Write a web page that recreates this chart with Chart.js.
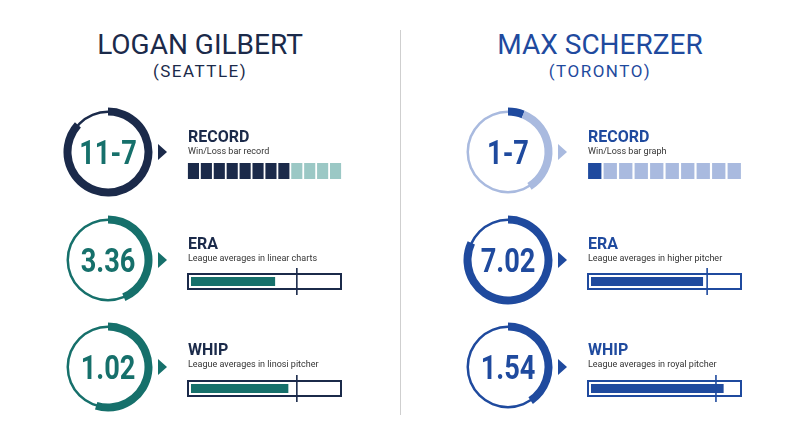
<!DOCTYPE html>
<html><head><meta charset="utf-8">
<script src="https://cdn.jsdelivr.net/npm/chart.js@4.4.1/dist/chart.umd.min.js"></script>
<style>
html,body{margin:0;padding:0;background:#fff;}
body{width:800px;height:447px;position:relative;overflow:hidden;font-family:Roboto,"Noto Sans",sans-serif;}
.abs{position:absolute;}
.title{font-size:28px;font-weight:400;text-align:center;width:360px;letter-spacing:0px;}
.team{font-size:17px;font-weight:400;text-align:center;width:360px;letter-spacing:1.5px;}
.num{font-weight:700;font-size:34px;text-align:center;width:100px;line-height:40px;transform:scaleX(0.8);}
.lab{font-weight:700;font-size:16px;line-height:18px;}
.sub{font-size:9px;color:#333;line-height:12px;}
.tri{width:0;height:0;border-top:8px solid transparent;border-bottom:8px solid transparent;border-left:9px solid #000;}
#div{left:400px;top:30px;width:1px;height:385px;background:#cfcfcf;}
</style></head>
<body>
<div id="div" class="abs"></div>
<script>
// ---- data ----
const players = ['LOGAN GILBERT', 'MAX SCHERZER'];
const teams = ['(SEATTLE)', '(TORONTO)'];
const statLabels = ['RECORD', 'ERA', 'WHIP'];
const gilbertSubtitles = ['Win/Loss bar record', 'League averages in linear charts', 'League averages in linosi pitcher'];
const scherzerSubtitles = ['Win/Loss bar graph', 'League averages in higher pitcher', 'League averages in royal pitcher'];
const gilbertValues = ['11-7', '3.36', '1.02'];
const scherzerValues = ['1-7', '7.02', '1.54'];
// ring arcs in degrees (thick primary arc, thick secondary arc)
const gilbertRingArc = [312, 157, 197];
const gilbertRingArc2 = [0, 0, 0];
const scherzerRingArc = [22, 295, 146];
const scherzerRingArc2 = [126, 0, 0];
// record boxes (dark, light)
const gilbertBoxes = [8, 4];
const scherzerBoxes = [1, 9];
// bar fills and league average marks (percent of bar)
const eraBar = [57, 76];
const eraLeague = [72, 79];
const whipBar = [66, 90];
const whipLeague = [72, 85];

// ---- styles ----
const sides = [
  {x0: 0, title: '#1b2a4a', label: '#1b2a4a', num: '#16706b',
   ringMain: ['#1b2a4a', '#16706b', '#16706b'], ringSec: ['#1b2a4a', '#16706b', '#16706b'], ringThin: ['#1b2a4a', '#16706b', '#16706b'],
   tri: ['#1b2a4a', '#16706b', '#16706b'], boxDark: '#1b2a4a', boxLight: '#9bc8c5', fill: '#16706b', outline: '#1b2a4a'},
  {x0: 400, title: '#1f4a9e', label: '#1f4a9e', num: '#1f4a9e',
   ringMain: ['#1f4a9e', '#1f4a9e', '#1f4a9e'], ringSec: ['#a9badf', '#1f4a9e', '#1f4a9e'], ringThin: ['#a9badf', '#1f4a9e', '#1f4a9e'],
   tri: ['#a9badf', '#1f4a9e', '#1f4a9e'], boxDark: '#1f4a9e', boxLight: '#a9badf', fill: '#1f4a9e', outline: '#1f4a9e'}
];
const rowY = [152, 260, 367];
const ringCX = 108;
const textX = 188;

Chart.defaults.animation = false;
Chart.defaults.events = [];
Chart.defaults.plugins.legend.display = false;
Chart.defaults.plugins.tooltip.enabled = false;

function mk(tag, cls, css, txt) {
  const e = document.createElement(tag);
  if (cls) e.className = cls;
  Object.assign(e.style, css || {});
  if (txt !== undefined) e.textContent = txt;
  document.body.appendChild(e);
  return e;
}
function canvasAt(x, y, w, h) {
  const c = document.createElement('canvas');
  c.width = w; c.height = h;
  Object.assign(c.style, {position: 'absolute', left: x + 'px', top: y + 'px', width: w + 'px', height: h + 'px'});
  document.body.appendChild(c);
  return c;
}
function ring(cx, cy, arc1, arc2, c1, c2, cThin) {
  const S = 100;
  // thin full circle (outer 41.5, inner 39)
  new Chart(canvasAt(cx - S / 2, cy - S / 2, S, S), {
    type: 'doughnut',
    data: {labels: ['a'], datasets: [{data: [360], backgroundColor: [cThin], borderWidth: 0}]},
    options: {responsive: false, radius: 41.5, cutout: (39 / 41.5 * 100) + '%'}
  });
  // thick arcs (outer 44.5, inner 36.5)
  new Chart(canvasAt(cx - S / 2, cy - S / 2, S, S), {
    type: 'doughnut',
    data: {labels: ['a', 'b', 'rest'], datasets: [{data: [arc1, arc2, 360 - arc1 - arc2], backgroundColor: [c1, c2, 'rgba(0,0,0,0)'], borderWidth: 0}]},
    options: {responsive: false, radius: 44.5, cutout: (36.5 / 44.5 * 100) + '%'}
  });
}
function record(x, y, w, h, boxes, dark, light) {
  const n = boxes[0] + boxes[1];
  const labels = [], data = [], cols = [];
  for (let i = 0; i < n; i++) { labels.push(String(i + 1)); data.push(1); cols.push(i < boxes[0] ? dark : light); }
  new Chart(canvasAt(x, y, w, h), {
    type: 'bar',
    data: {labels, datasets: [{data, backgroundColor: cols, borderWidth: 0, barPercentage: 0.86, categoryPercentage: 1}]},
    options: {responsive: false, layout: {padding: 0},
      scales: {x: {display: false}, y: {display: false, min: 0, max: 1}}}
  });
}
const boxPlugin = {
  id: 'boxMark',
  beforeDatasetsDraw(chart, args, opts) {
    const ca = chart.chartArea, ctx = chart.ctx;
    ctx.save();
    ctx.strokeStyle = opts.outline; ctx.lineWidth = 2;
    ctx.strokeRect(ca.left - 3, ca.top - 3, ca.right - ca.left + 6, ca.bottom - ca.top + 6);
    ctx.restore();
  },
  afterDatasetsDraw(chart, args, opts) {
    const ca = chart.chartArea, ctx = chart.ctx;
    const x = chart.scales.x.getPixelForValue(opts.mark);
    ctx.save();
    ctx.strokeStyle = opts.outline; ctx.lineWidth = 1.6;
    ctx.beginPath(); ctx.moveTo(x, ca.top - 9); ctx.lineTo(x, ca.bottom + 9); ctx.stroke();
    ctx.restore();
  }
};
function meter(x, y, value, mark, fill, outline) {
  new Chart(canvasAt(x, y, 163, 36), {
    type: 'bar',
    plugins: [boxPlugin],
    data: {labels: ['v'], datasets: [{data: [value], backgroundColor: fill, borderWidth: 0, barPercentage: 1, categoryPercentage: 1}]},
    options: {responsive: false, indexAxis: 'y', layout: {padding: {left: 8, right: 8, top: 13, bottom: 14}},
      scales: {x: {display: false, min: 0, max: 100}, y: {display: false}},
      plugins: {boxMark: {mark, outline}}}
  });
}

[0, 1].forEach(p => {
  const s = sides[p], X = s.x0;
  const subs = p === 0 ? gilbertSubtitles : scherzerSubtitles;
  const vals = p === 0 ? gilbertValues : scherzerValues;
  const arcs = p === 0 ? gilbertRingArc : scherzerRingArc;
  const arcs2 = p === 0 ? gilbertRingArc2 : scherzerRingArc2;
  const boxes = p === 0 ? gilbertBoxes : scherzerBoxes;
  mk('div', 'abs title', {left: (X + 20) + 'px', top: '28px', color: s.title}, players[p]);
  mk('div', 'abs team', {left: (X + 20) + 'px', top: '61px', color: s.title}, teams[p]);
  for (let r = 0; r < 3; r++) {
    const cy = rowY[r];
    const cx = X + ringCX;
    ring(cx, cy, arcs[r], arcs2[r], s.ringMain[r], s.ringSec[r], s.ringThin[r]);
    mk('div', 'abs num', {left: (cx - 50) + 'px', top: (cy - 20) + 'px', color: s.num}, vals[r]);
    mk('div', 'abs tri', {left: (cx + 50) + 'px', top: (cy - 8) + 'px', borderLeftColor: s.tri[r]});
    mk('div', 'abs lab', {left: (X + textX) + 'px', top: (cy - 24 - r) + 'px', color: s.label}, statLabels[r]);
    mk('div', 'abs sub', {left: (X + textX) + 'px', top: (cy - 7 - r) + 'px'}, subs[r]);
  }
  record(X + 187, rowY[0] + 11, 155, 16, boxes, s.boxDark, s.boxLight);
  meter(X + 183, rowY[1] + 4, eraBar[p], eraLeague[p], s.fill, s.outline);
  meter(X + 183, rowY[2] + 4, whipBar[p], whipLeague[p], s.fill, s.outline);
});
</script>
</body></html>
